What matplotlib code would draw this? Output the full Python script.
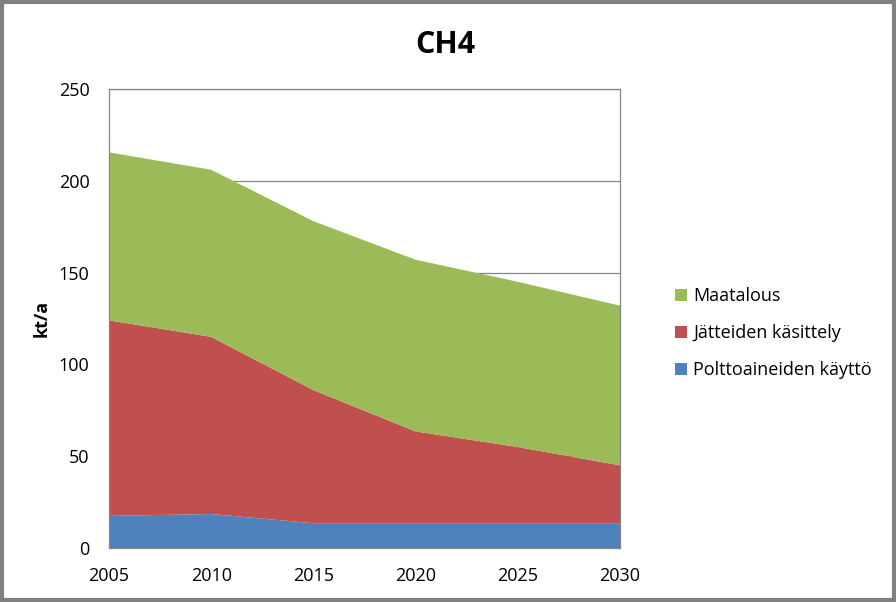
import matplotlib.pyplot as plt
from matplotlib.patches import Rectangle

years = [2005, 2010, 2015, 2020, 2025, 2030]
fuel = [17.5, 18.5, 13.5, 13.5, 13.5, 13.5]        # Polttoaineiden käyttö
waste = [106.5, 96.5, 72.5, 50.0, 41.5, 31.5]      # Jätteiden käsittely
agri = [91.5, 91.0, 92.0, 93.5, 90.0, 87.0]        # Maatalous
labels = ['Polttoaineiden käyttö', 'Jätteiden käsittely', 'Maatalous']
colors = ['#4F81BD', '#C0504D', '#9BBB59']

plt.rcParams['font.family'] = ['Open Sans', 'DejaVu Sans']

fig = plt.figure(figsize=(8.96, 6.02), dpi=100)
ax = fig.add_axes([109 / 896, 54 / 602, 511 / 896, 459 / 602])

ax.stackplot(years, fuel, waste, agri, colors=colors, labels=labels, zorder=2)

ax.set_xlim(2005, 2030)
ax.set_ylim(0, 250)
ax.set_yticks(range(0, 251, 50))
ax.set_xticks(years)
ax.yaxis.grid(True, color='#868686', linewidth=0.9, zorder=0)
ax.set_axisbelow(True)
ax.tick_params(length=0, labelsize=13)
ax.tick_params(axis='y', pad=14)
ax.tick_params(axis='x', pad=14)
for s in ax.spines.values():
    s.set_color('#868686')
    s.set_linewidth(0.9)

ax.set_ylabel('kt/a', fontsize=13, fontweight='bold', labelpad=6)

fig.text(0.497, 0.925, 'CH4', ha='center', va='center', fontsize=22, fontweight='bold')

handles, labs = ax.get_legend_handles_labels()
fig.legend(handles[::-1], labs[::-1], loc='center left', bbox_to_anchor=(659 / 896, 1 - 333 / 602),
           frameon=False, fontsize=13, handlelength=0.65, handleheight=0.65, handletextpad=0.35,
           labelspacing=1.05)

# outer chart border
fig.patches.append(Rectangle((0.002, 0.003), 0.996, 0.994, transform=fig.transFigure,
                             fill=False, edgecolor='#808080', linewidth=3))

fig.savefig('out.png', dpi=100)
